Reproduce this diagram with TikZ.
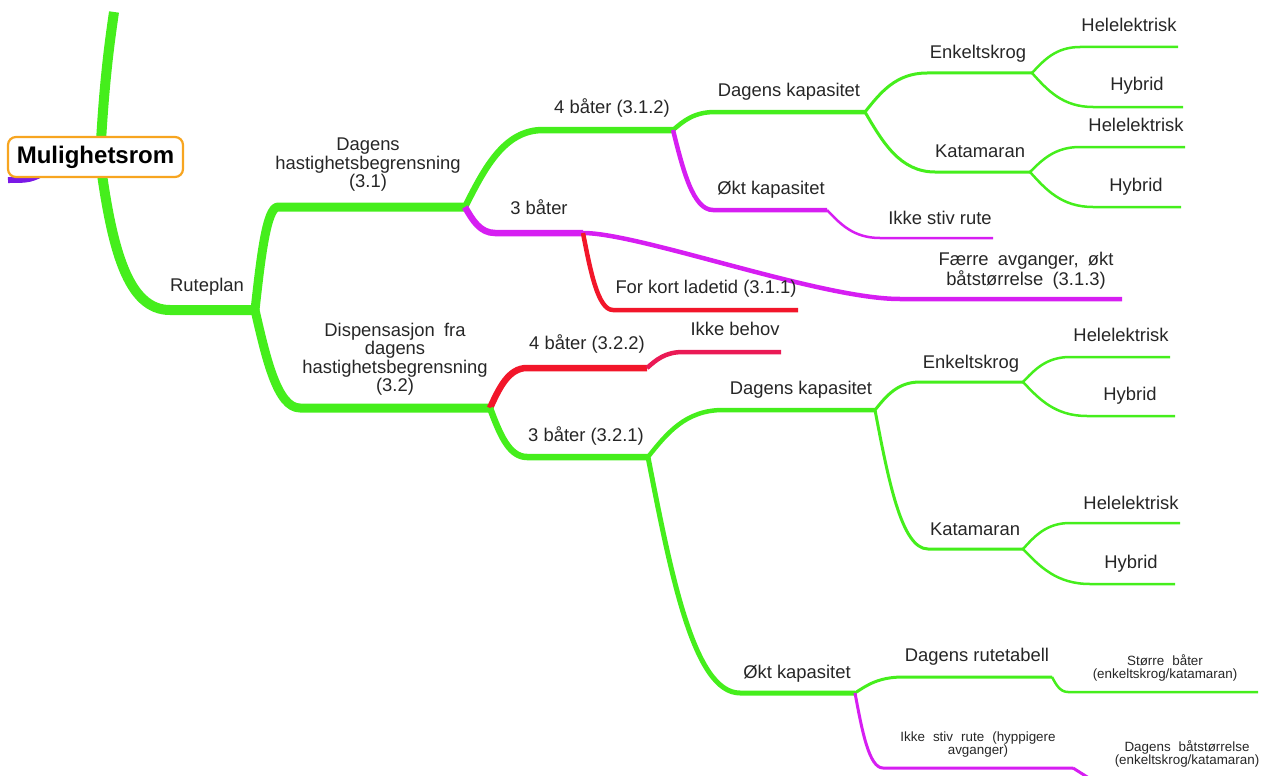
\documentclass[tikz,border=0pt]{standalone}
\usepackage{fontspec}
\setmainfont{Liberation Sans}
\usetikzlibrary{calc}
\definecolor{mmgreen}{HTML}{45EE1C}
\definecolor{mmmag}{HTML}{D61EF2}
\definecolor{mmred}{HTML}{F2162A}
\definecolor{mmpink}{HTML}{EA1A55}
\definecolor{mmorange}{HTML}{F7A520}
\definecolor{mmpurple}{HTML}{7A18E6}
\definecolor{mmtext}{HTML}{262626}
\newcommand\mmbranch[4]{\draw[#1] let \p1=($(#3)-(#2)$) in (#2) .. controls ($(#2)+(0.25*\x1,0.5*\y1)$) and ($(#3)-(0.5*\x1,0)$) .. (#3) -- (#4);}
\newcommand\wsp{\hspace{0.5em}}
\newcommand\wss{\hspace{0.6em}}
\tikzset{
  lbl/.style={font=\fontsize{18.4}{18.5}\selectfont, text=mmtext, inner sep=0pt, text height=13.2pt, text depth=3.9pt},
  mlbl/.style={font=\fontsize{18.4}{18.5}\selectfont, text=mmtext, inner sep=0pt, align=center},
  sml/.style={font=\fontsize{13.4}{13}\selectfont, text=mmtext, inner sep=0pt, align=center},
  wA/.style={line width=10pt, draw=mmgreen},
  wB/.style={line width=9pt},
  wC/.style={line width=6.5pt},
  wD/.style={line width=4.5pt},
  wE/.style={line width=3pt},
  wF/.style={line width=2.5pt},
  rootbox/.style={draw=mmorange, line width=2.2pt, rounded corners=8pt, fill=white, minimum width=175pt, minimum height=40pt, inner sep=0pt, font=\fontsize{24}{24}\selectfont\bfseries, text=black}
}
\begin{document}
\begin{tikzpicture}[x=1pt, y=-1pt, line join=round]
\useasboundingbox (0,0) rectangle (1277,776);
% coordinates
\coordinate (rootc) at (100,160);
\coordinate (t0) at (114,12);
\coordinate (pl0) at (50,170);
\coordinate (pl) at (8,180);
\coordinate (rb) at (170,310);
\coordinate (j1) at (255,310);
\coordinate (a1) at (278,207);  \coordinate (j2) at (465,207);
\coordinate (a2) at (300,408);  \coordinate (j6) at (490,408);
\coordinate (a3) at (543,130);  \coordinate (j3) at (673,130);
\coordinate (a4) at (495,233);  \coordinate (j5) at (583,233);
\coordinate (a5) at (715,112);  \coordinate (j4) at (865,112);
\coordinate (a6) at (713,210);  \coordinate (e6) at (827,210);
\coordinate (a7) at (880,238);  \coordinate (e7) at (993,238);
\coordinate (a8) at (927,73);   \coordinate (j8u) at (1032,73);
\coordinate (a9) at (935,172);  \coordinate (j9u) at (1030,172);
\coordinate (a10) at (1080,47); \coordinate (e10) at (1178,47);
\coordinate (a11) at (1093,107);\coordinate (e11) at (1183,107);
\coordinate (a12) at (1080,147);\coordinate (e12) at (1185,147);
\coordinate (a13) at (1093,207);\coordinate (e13) at (1181,207);
\coordinate (a14) at (900,299); \coordinate (e14) at (1122,299);
\coordinate (a15) at (613,310); \coordinate (e15) at (798,310);
\coordinate (a16) at (527,368); \coordinate (j16) at (647,368);
\coordinate (a17) at (527,457); \coordinate (j7) at (648,457);
\coordinate (a18) at (683,352); \coordinate (e18) at (781,352);
\coordinate (a19) at (723,410); \coordinate (j8) at (875,410);
\coordinate (a20) at (740,693); \coordinate (j9) at (855,693);
\coordinate (a21) at (920,382); \coordinate (j21) at (1023,382);
\coordinate (a22) at (928,549); \coordinate (j22) at (1023,549);
\coordinate (a23) at (1070,357);\coordinate (e23) at (1170,357);
\coordinate (a24) at (1087,416);\coordinate (e24) at (1175,416);
\coordinate (a25) at (1070,523);\coordinate (e25) at (1180,523);
\coordinate (a26) at (1090,584);\coordinate (e26) at (1175,584);
\coordinate (a27) at (903,677); \coordinate (j27) at (1052,677);
\coordinate (a28) at (883,768); \coordinate (j28) at (1073,768);
\coordinate (a29) at (1068,692);\coordinate (e29) at (1258,692);
\coordinate (e30) at (1092,780);
% trunk
\draw[wA] (rootc) .. controls (104,80) and (110,40) .. (t0);
\draw[line width=6pt, draw=mmpurple] (pl0) .. controls (30,180) .. (pl);
\draw[wA] (rootc) .. controls (112,250) and (128,310) .. (rb) -- (j1);
% level 2
\mmbranch{wB, draw=mmgreen}{j1}{a1}{j2}
\mmbranch{wB, draw=mmgreen}{j1}{a2}{j6}
% level 3
\mmbranch{wC, draw=mmgreen}{j2}{a3}{j3}
\mmbranch{wC, draw=mmmag}{j2}{a4}{j5}
\mmbranch{wC, draw=mmred}{j6}{a16}{j16}
\mmbranch{wC, draw=mmgreen}{j6}{a17}{j7}
% level 4
\mmbranch{wD, draw=mmgreen}{j3}{a5}{j4}
\mmbranch{wD, draw=mmmag}{j3}{a6}{e6}
\draw[wD, draw=mmmag] (j5) .. controls (640,233) and (820,299) .. (a14) -- (e14);
\mmbranch{wD, draw=mmred}{j5}{a15}{e15}
\mmbranch{wD, draw=mmpink}{j16}{a18}{e18}
\mmbranch{wD, draw=mmgreen}{j7}{a19}{j8}
\mmbranch{line width=5pt, draw=mmgreen}{j7}{a20}{j9}
% level 5
\mmbranch{wF, draw=mmmag}{e6}{a7}{e7}
\mmbranch{wE, draw=mmgreen}{j4}{a8}{j8u}
\mmbranch{wE, draw=mmgreen}{j4}{a9}{j9u}
\mmbranch{wE, draw=mmgreen}{j8}{a21}{j21}
\mmbranch{wE, draw=mmgreen}{j8}{a22}{j22}
\mmbranch{wE, draw=mmgreen}{j9}{a27}{j27}
\mmbranch{wE, draw=mmmag}{j9}{a28}{j28}
% level 6
\mmbranch{wF, draw=mmgreen}{j8u}{a10}{e10}
\mmbranch{wF, draw=mmgreen}{j8u}{a11}{e11}
\mmbranch{wF, draw=mmgreen}{j9u}{a12}{e12}
\mmbranch{wF, draw=mmgreen}{j9u}{a13}{e13}
\mmbranch{wF, draw=mmgreen}{j21}{a23}{e23}
\mmbranch{wF, draw=mmgreen}{j21}{a24}{e24}
\mmbranch{wF, draw=mmgreen}{j22}{a25}{e25}
\mmbranch{wF, draw=mmgreen}{j22}{a26}{e26}
\mmbranch{wF, draw=mmgreen}{j27}{a29}{e29}
\draw[wE, draw=mmmag] (j28) -- (e30);
% root
\node[rootbox] (root) at (95.5,157) {Mulighetsrom};
% labels
\node[lbl] (ruteplan) at (207,287) {Ruteplan};
\node[mlbl] (dagh) at (368,165) {Dagens\\hastighetsbegrensning\\(3.1)};
\node[mlbl] (disp) at (395,359) {Dispensasjon\wsp fra\\dagens\\hastighetsbegrensning\\(3.2)};
\node[lbl] (b312) at (612,109) {4 båter (3.1.2)};
\node[lbl] (b3) at (539,210) {3 båter};
\node[lbl] (kort) at (706,289) {For kort ladetid (3.1.1)};
\node[mlbl] (faerre) at (1026,271) {Færre\wsp avganger,\wsp økt\\båtstørrelse\wsp (3.1.3)};
\node[lbl] (dk1) at (789,92) {Dagens kapasitet};
\node[lbl] (ok1) at (771,190) {Økt kapasitet};
\node[lbl] (isr1) at (940,220) {Ikke stiv rute};
\node[lbl] (enk1) at (978,54) {Enkeltskrog};
\node[lbl] (he1) at (1129,27) {Helelektrisk};
\node[lbl] (hy1) at (1137,86) {Hybrid};
\node[lbl] (kat1) at (980,153) {Katamaran};
\node[lbl] (he2) at (1136,127) {Helelektrisk};
\node[lbl] (hy2) at (1136,187) {Hybrid};
\node[lbl] (b322) at (587,345) {4 båter (3.2.2)};
\node[lbl] (ikb) at (735,331) {Ikke behov};
\node[lbl] (b321) at (586,437) {3 båter (3.2.1)};
\node[lbl] (dk2) at (801,390) {Dagens kapasitet};
\node[lbl] (ok2) at (797,674) {Økt kapasitet};
\node[lbl] (enk2) at (971,364) {Enkeltskrog};
\node[lbl] (he3) at (1121,337) {Helelektrisk};
\node[lbl] (hy3) at (1130,396) {Hybrid};
\node[lbl] (kat2) at (975,531) {Katamaran};
\node[lbl] (he4) at (1131,505) {Helelektrisk};
\node[lbl] (hy4) at (1131,564) {Hybrid};
\node[lbl] (drt) at (977,657) {Dagens rutetabell};
\node[sml] (storre) at (1165,668) {Større\wss båter\\(enkeltskrog/katamaran)};
\node[sml] (isr2) at (978,745) {Ikke\wss stiv\wss rute\wss (hyppigere\\avganger)};
\node[sml] (dbs) at (1187,754) {Dagens\wss båtstørrelse\\(enkeltskrog/katamaran)};
\end{tikzpicture}
\end{document}
